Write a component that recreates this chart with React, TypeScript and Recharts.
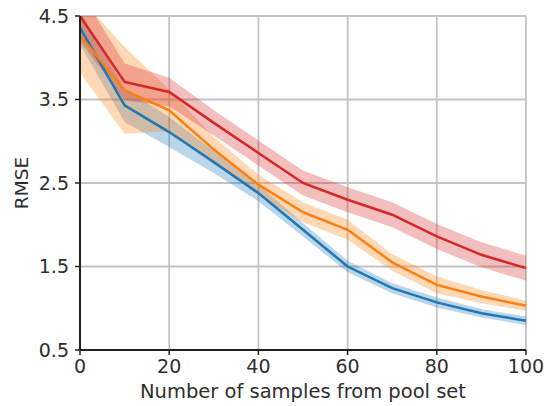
import {
  ComposedChart,
  Line,
  Area,
  XAxis,
  YAxis,
  CartesianGrid,
} from "recharts";

const samples = [0, 10, 20, 30, 40, 50, 60, 70, 80, 90, 100];

const blueMean = [4.36, 3.43, 3.11, 2.75, 2.38, 1.94, 1.5, 1.24, 1.07, 0.94, 0.85];
const blueStd = [0.2, 0.2, 0.18, 0.13, 0.1, 0.08, 0.07, 0.06, 0.06, 0.05, 0.05];

const orangeMean = [4.27, 3.61, 3.37, 2.9, 2.48, 2.15, 1.94, 1.55, 1.28, 1.14, 1.03];
const orangeStd = [0.45, 0.52, 0.25, 0.15, 0.12, 0.12, 0.12, 0.1, 0.1, 0.08, 0.06];

const redMean = [4.5, 3.71, 3.59, 3.22, 2.86, 2.5, 2.3, 2.12, 1.86, 1.64, 1.48];
const redStd = [0.3, 0.22, 0.17, 0.15, 0.15, 0.15, 0.15, 0.15, 0.15, 0.15, 0.15];

const xTicks = [0, 20, 40, 60, 80, 100];
const yTicks = [0.5, 1.5, 2.5, 3.5, 4.5];

const data = samples.map((x, i) => ({
  x,
  blue: blueMean[i],
  blueBand: [blueMean[i] - blueStd[i], blueMean[i] + blueStd[i]],
  orange: orangeMean[i],
  orangeBand: [orangeMean[i] - orangeStd[i], orangeMean[i] + orangeStd[i]],
  red: redMean[i],
  redBand: [redMean[i] - redStd[i], redMean[i] + redStd[i]],
}));

const BLUE = "#1f77b4";
const ORANGE = "#ff7f0e";
const RED = "#d62728";
const FONT = "'DejaVu Sans', sans-serif";
const tickStyle = { fontSize: 19, fill: "#2e2e2e", fontFamily: FONT };

export default function App() {
  return (
    <div style={{ position: "absolute", left: 0, top: 0 }}>
      <ComposedChart
        width={548}
        height={406}
        data={data}
        margin={{ top: 16, right: 22, bottom: 0, left: 0 }}
      >
        <CartesianGrid stroke="#c4c4c4" strokeWidth={1.8} />
        <XAxis
          dataKey="x"
          type="number"
          domain={[0, 100]}
          ticks={xTicks}
          height={56}
          tick={tickStyle}
          tickSize={5}
          tickMargin={5}
          axisLine={{ stroke: "#222", strokeWidth: 2 }}
          tickLine={{ stroke: "#222", strokeWidth: 1.5 }}
          label={{
            value: "Number of samples from pool set",
            position: "insideBottom",
            offset: 8,
            style: { fontSize: 19.5, fill: "#2e2e2e", fontFamily: FONT },
          }}
        />
        <XAxis
          xAxisId="top"
          orientation="top"
          dataKey="x"
          type="number"
          domain={[0, 100]}
          height={0}
          tick={false}
          tickLine={false}
          axisLine={{ stroke: "#222", strokeWidth: 2 }}
        />
        <YAxis
          type="number"
          domain={[0.5, 4.5]}
          ticks={yTicks}
          allowDataOverflow
          width={80}
          tick={tickStyle}
          tickSize={5}
          tickMargin={6}
          tickFormatter={(v: number) => v.toFixed(1)}
          axisLine={{ stroke: "#222", strokeWidth: 2 }}
          tickLine={{ stroke: "#222", strokeWidth: 1.5 }}
          label={{
            value: "RMSE",
            angle: -90,
            position: "insideLeft",
            offset: 21,
            style: { fontSize: 18.5, fill: "#2e2e2e", fontFamily: FONT, textAnchor: "middle" },
          }}
        />
        <YAxis
          yAxisId="right"
          orientation="right"
          domain={[0.5, 4.5]}
          width={0}
          tick={false}
          tickLine={false}
          axisLine={{ stroke: "#222", strokeWidth: 2 }}
        />
        <Area
          dataKey="blueBand"
          type="linear"
          stroke="none"
          fill={BLUE}
          fillOpacity={0.3}
          isAnimationActive={false}
        />
        <Line
          dataKey="blue"
          type="linear"
          stroke={BLUE}
          strokeWidth={2.5}
          dot={false}
          isAnimationActive={false}
        />
        <Area
          dataKey="orangeBand"
          type="linear"
          stroke="none"
          fill={ORANGE}
          fillOpacity={0.3}
          isAnimationActive={false}
        />
        <Line
          dataKey="orange"
          type="linear"
          stroke={ORANGE}
          strokeWidth={2.5}
          dot={false}
          isAnimationActive={false}
        />
        <Area
          dataKey="redBand"
          type="linear"
          stroke="none"
          fill={RED}
          fillOpacity={0.3}
          isAnimationActive={false}
        />
        <Line
          dataKey="red"
          type="linear"
          stroke={RED}
          strokeWidth={2.5}
          dot={false}
          isAnimationActive={false}
        />
      </ComposedChart>
    </div>
  );
}
